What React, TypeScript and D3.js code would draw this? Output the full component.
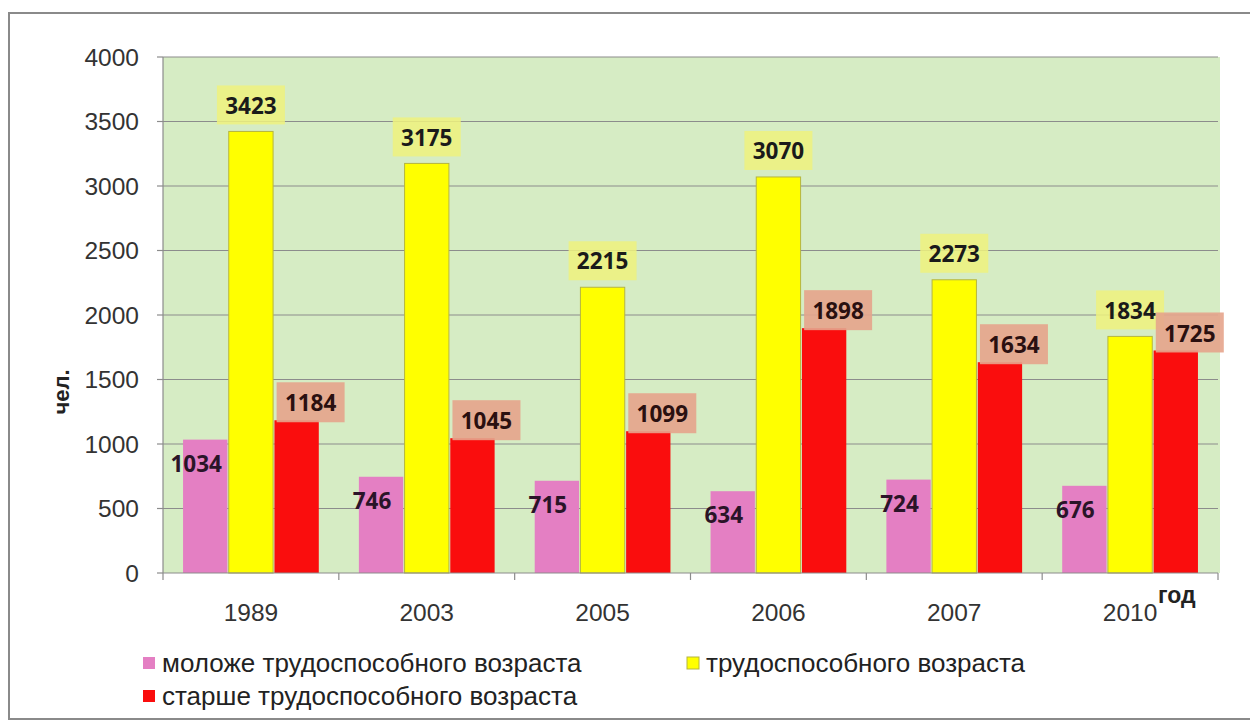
import React from "react";
import * as d3 from "d3";

const years = ["1989", "2003", "2005", "2006", "2007", "2010"];
const seriesNames = [
  "моложе трудоспособного возраста",
  "трудоспособного возраста",
  "старше трудоспособного возраста",
];
const younger = [1034, 746, 715, 634, 724, 676];
const working = [3423, 3175, 2215, 3070, 2273, 1834];
const older = [1184, 1045, 1099, 1898, 1634, 1725];
const yTicks = [0, 500, 1000, 1500, 2000, 2500, 3000, 3500, 4000];

const W = 1250;
const H = 722;
const plot = { left: 163, right: 1218, top: 57, bottom: 573 };
const colors = ["#e47fc3", "#ffff00", "#fa0d0d"];

export default function App() {
  const y = d3.scaleLinear().domain([0, 4000]).range([plot.bottom, plot.top]);
  const x0 = d3.scaleBand<string>().domain(years).range([plot.left, plot.right]).padding(0);
  const bw = x0.bandwidth();
  const x1 = d3.scaleBand<number>().domain([0, 1, 2]).range([bw * 0.114, bw * 0.886]).paddingInner(0.03);
  const series = [younger, working, older];
  const axisFont = "'Liberation Sans', Arial, sans-serif";
  const labelFont = "'Open Sans', 'Liberation Sans', sans-serif";

  return (
    <svg width={W} height={H} style={{ position: "absolute", left: 0, top: 0, background: "#fff" }}>
      <rect x={0} y={0} width={W} height={H} fill="#fff" />
      <rect x={9} y={13} width={W} height={706} fill="#fff" stroke="#8a8a8a" strokeWidth={2} />
      {/* plot background */}
      <rect x={plot.left} y={plot.top} width={plot.right - plot.left + 2} height={plot.bottom - plot.top} fill="#d6ecc4" />
      {/* gridlines */}
      {yTicks.map((t) => (
        <g key={t}>
          {t > 0 && (
            <line x1={plot.left} x2={plot.right} y1={y(t)} y2={y(t)} stroke="#8c8c8c" strokeWidth={1.2} />
          )}
          <line x1={plot.left - 6} x2={plot.left} y1={y(t)} y2={y(t)} stroke="#8c8c8c" strokeWidth={1.2} />
          <text
            x={plot.left - 24}
            y={y(t)}
            dy="0.36em"
            textAnchor="end"
            fontFamily={axisFont}
            fontSize={24.5}
            fill="#333"
          >
            {t}
          </text>
        </g>
      ))}
      {/* bars */}
      {years.map((yr, i) => (
        <g key={yr} transform={`translate(${x0(yr)},0)`}>
          {series.map((s, k) => (
            <rect
              key={k}
              x={x1(k)}
              y={y(s[i])}
              width={x1.bandwidth()}
              height={plot.bottom - y(s[i])}
              fill={colors[k]}
              stroke={k === 1 ? "#b5b540" : "none"}
              strokeWidth={1}
            />
          ))}
        </g>
      ))}
      {/* axes */}
      <line x1={plot.left} x2={plot.left} y1={plot.top} y2={plot.bottom} stroke="#8c8c8c" strokeWidth={1.2} />
      <line x1={plot.left} x2={plot.right} y1={plot.bottom} y2={plot.bottom} stroke="#8c8c8c" strokeWidth={1.2} />
      {[...years.map((yr) => x0(yr) as number), plot.right].map((xv, i) => (
        <line key={i} x1={xv} x2={xv} y1={plot.bottom} y2={plot.bottom + 7} stroke="#8c8c8c" strokeWidth={1.2} />
      ))}
      {years.map((yr) => (
        <text
          key={yr}
          x={(x0(yr) as number) + bw / 2}
          y={621}
          textAnchor="middle"
          fontFamily={axisFont}
          fontSize={24.5}
          fill="#333"
        >
          {yr}
        </text>
      ))}
      {/* data labels */}
      {years.map((yr, i) => {
        const gx = x0(yr) as number;
        const cx = (k: number) => gx + (x1(k) as number) + x1.bandwidth() / 2;
        return (
          <g key={yr}>
            <text
              x={cx(0) - 9}
              y={y(younger[i]) + 24}
              dy="0.36em"
              textAnchor="middle"
              fontFamily={labelFont}
              fontWeight={700}
              fontSize={22.5}
              fill="#2a1428"
            >
              {younger[i]}
            </text>
            <rect x={cx(1) - 34} y={y(working[i]) - 46} width={68} height={39} fill="#eef27e" opacity={0.85} />
            <text
              x={cx(1)}
              y={y(working[i]) - 26}
              dy="0.36em"
              textAnchor="middle"
              fontFamily={labelFont}
              fontWeight={700}
              fontSize={22.5}
              fill="#1a1a1a"
            >
              {working[i]}
            </text>
            <rect x={cx(2) + 14 - 34} y={y(older[i]) - 38} width={68} height={40} fill="#e5a48c" opacity={0.9} />
            <text
              x={cx(2) + 14}
              y={y(older[i]) - 17}
              dy="0.36em"
              textAnchor="middle"
              fontFamily={labelFont}
              fontWeight={700}
              fontSize={22.5}
              fill="#2a1010"
            >
              {older[i]}
            </text>
          </g>
        );
      })}
      {/* axis titles */}
      <text
        transform="translate(69,392) rotate(-90)"
        textAnchor="middle"
        fontFamily={axisFont}
        fontWeight={700}
        fontSize={22}
        fill="#222"
      >
        чел.
      </text>
      <text x={1158} y={603} fontFamily={axisFont} fontWeight={700} fontSize={23} fill="#222">
        год
      </text>
      {/* legend */}
      {[
        { k: 0, x: 143, y: 663 },
        { k: 1, x: 687, y: 663 },
        { k: 2, x: 143, y: 696 },
      ].map(({ k, x, y: ly }) => (
        <g key={k}>
          <rect x={x} y={ly - 6} width={12} height={12} fill={colors[k]} stroke={k === 1 ? "#b5b540" : "none"} />
          <text x={x + 19} y={ly} dy="0.36em" fontFamily={axisFont} fontSize={26} fill="#222">
            {seriesNames[k]}
          </text>
        </g>
      ))}
    </svg>
  );
}
